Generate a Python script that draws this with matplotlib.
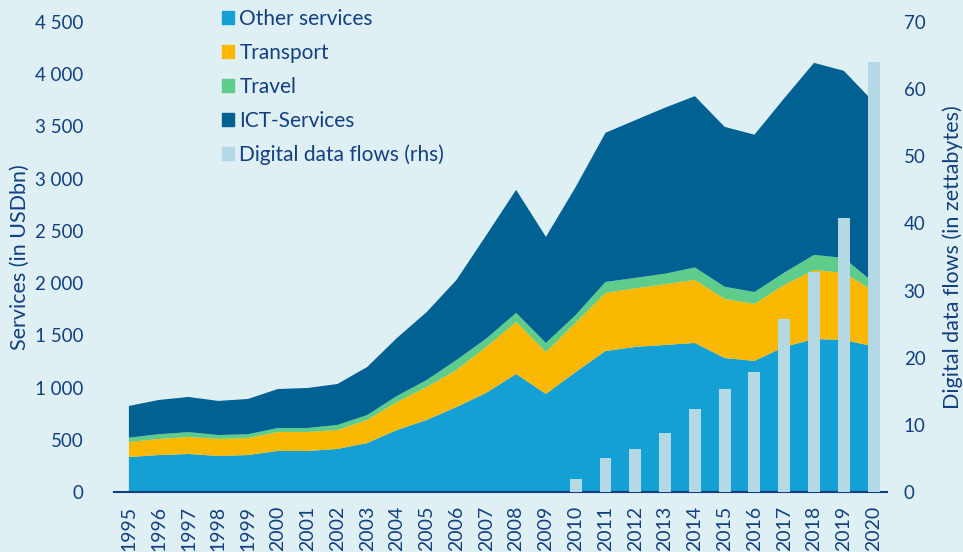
import matplotlib.pyplot as plt
import numpy as np
from matplotlib.patches import Patch

#%% Farben

col_other = '#14a0d5'
col_transport = '#fbb800'
col_travel = '#5ecd8b'
col_ict = '#006192'
col_data = '#b5d9e4'
col_bg = '#dff0f5'
col_text = '#133f80'

#%% Daten (USDbn)

years = list(range(1995, 2021))

# Obergrenzen der Stapel
top_other = [335, 354, 364, 345, 354, 393, 393, 412, 469, 594, 690, 814, 950,
             1130, 939, 1149, 1350, 1389, 1408, 1427, 1283, 1255, 1389, 1465, 1456, 1394]
top_transport = [479, 508, 527, 508, 517, 574, 574, 594, 690, 862, 1006, 1169, 1390,
                 1628, 1341, 1620, 1906, 1950, 1990, 2031, 1849, 1801, 1983, 2126, 2098, 1924]
top_travel = [520, 553, 573, 545, 553, 613, 613, 642, 737, 920, 1073, 1264, 1470,
              1715, 1427, 1695, 2011, 2050, 2090, 2150, 1965, 1915, 2100, 2270, 2241, 2005]
top_ict = [824, 881, 910, 872, 891, 986, 996, 1034, 1197, 1475, 1724, 2031, 2460,
           2893, 2443, 2921, 3439, 3560, 3680, 3790, 3496, 3421, 3770, 4109, 4033, 3735]

other = np.array(top_other)
transport = np.array(top_transport) - np.array(top_other)
travel = np.array(top_travel) - np.array(top_transport)
ict = np.array(top_ict) - np.array(top_travel)

# Digitale Datenfluesse (Zettabytes, rechte Achse)
data_years = list(range(2010, 2021))
data_flows = [2, 5, 6.4, 8.8, 12.4, 15.3, 17.9, 25.8, 32.8, 40.8, 64]

#%% Plot

plt.rcParams['font.family'] = ['Lato', 'DejaVu Sans']

fig = plt.figure(figsize=(9.63, 5.52), dpi=100)
fig.patch.set_facecolor(col_bg)
ax = fig.add_axes([114/963, 1 - 492/552, (887 - 114)/963, (492 - 22)/552])
ax.set_facecolor(col_bg)

ax.stackplot(years, other, transport, travel, ict,
             colors=[col_other, col_transport, col_travel, col_ict], lw=0)
ax.set_xlim(1994.5, 2020.45)
ax.set_ylim(0, 4500)
ax.set_yticks(np.arange(0, 4501, 500))
ax.set_yticklabels([f'{v:,}'.replace(',', ' ') for v in range(0, 4501, 500)])
ax.set_xticks(years)
ax.set_xticklabels([str(y) for y in years], rotation=90)
ax.set_ylabel('Services (in USDbn)', color=col_text, fontsize=15.5, labelpad=4)

ax2 = ax.twinx()
ax2.bar(data_years, data_flows, width=0.4, color=col_data)
ax2.set_ylim(0, 70)
ax2.set_yticks(np.arange(0, 71, 10))
ax2.set_ylabel('Digital data flows (in zettabytes)', color=col_text, fontsize=15.5, labelpad=12)

for a in (ax, ax2):
    for s in a.spines.values():
        s.set_visible(False)
    a.tick_params(length=0, colors=col_text, labelsize=13.5)
ax.spines['bottom'].set_visible(True)
ax.spines['bottom'].set_color(col_text)
ax.spines['bottom'].set_linewidth(1.5)
ax.tick_params(axis='y', pad=22)
ax.tick_params(axis='x', pad=10, labelsize=14)
ax2.tick_params(axis='y', pad=12)

handles = [Patch(color=col_other, label='Other services'),
           Patch(color=col_transport, label='Transport'),
           Patch(color=col_travel, label='Travel'),
           Patch(color=col_ict, label='ICT-Services'),
           Patch(color=col_data, label='Digital data flows (rhs)')]
leg = fig.legend(handles=handles, loc='upper left', bbox_to_anchor=(222/963, 1 - 9/552),
                 frameon=False, fontsize=15, handlelength=0.58, handleheight=0.58,
                 handletextpad=0.25, labelspacing=0.665, borderpad=0, borderaxespad=0)
for t in leg.get_texts():
    t.set_color(col_text)

plt.savefig('out.png', dpi=100, facecolor=col_bg)
